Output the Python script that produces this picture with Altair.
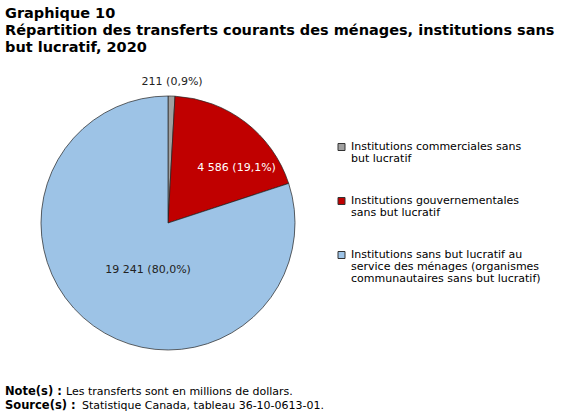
import altair as alt
import pandas as pd

categories = [
    "Institutions commerciales sans|but lucratif",
    "Institutions gouvernementales|sans but lucratif",
    "Institutions sans but lucratif au|service des ménages (organismes|communautaires sans but lucratif)",
]
values = [211, 4586, 19241]
labels = ["211 (0,9%)", "4 586 (19,1%)", "19 241 (80,0%)"]
colors = ["#A0A0A0", "#C00000", "#9DC3E6"]
label_colors = ["#222222", "#FFFFFF", "#222222"]

df = pd.DataFrame({
    "cat": categories,
    "value": values,
    "label": labels,
    "order": list(range(len(values))),
    "lcol": label_colors,
})

# legend table built from the categories (one row per text line)
rows = []
prev = 0
for i, c in enumerate(categories):
    parts = c.split("|")
    for j, line in enumerate(parts):
        rows.append({"cat": c, "entry": i, "line": j, "prev": prev, "txt": line})
    prev += len(parts)
leg = pd.DataFrame(rows)

FONT = "DejaVu Sans"
CX, CY, R = 168, 223, 127
color_scale = alt.Scale(domain=categories, range=colors)

base = alt.Chart(df)

pie = base.mark_arc(stroke="#222222", strokeWidth=0.7).encode(
    theta=alt.Theta("value:Q", stack=True),
    order=alt.Order("order:Q"),
    color=alt.Color("cat:N", scale=color_scale, legend=None),
    x=alt.value(CX),
    y=alt.value(CY),
    radius=alt.value(R),
)

text = base.transform_joinaggregate(
    total="sum(value)"
).transform_window(
    cum="sum(value)", sort=[alt.SortField("order")], frame=[None, 0]
).transform_calculate(
    start="datum.cum - datum.value",
    f="datum.order == 0 ? 0.53 : (datum.order == 1 ? 0.70 : 0.455)",
    r="datum.order == 0 ? 141 : (datum.order == 1 ? 88 : 51)",
).transform_calculate(
    ang="2 * PI * (datum.start + datum.f * datum.value) / datum.total"
).transform_calculate(
    px=f"{CX} + datum.r * sin(datum.ang)",
    py=f"{CY} - datum.r * cos(datum.ang)",
).mark_text(font=FONT, fontSize=11).encode(
    x=alt.X("px:Q", scale=None),
    y=alt.Y("py:Q", scale=None),
    text="label:N",
    color=alt.Color("lcol:N", scale=None),
)

LY0, LH, GAP = 147, 12, 30
leg_base = alt.Chart(leg).transform_calculate(
    ly=f"{LY0} + {LH} * (datum.prev + datum.line) + {GAP} * datum.entry"
)

leg_sym = leg_base.transform_filter("datum.line == 0").mark_square(
    size=49, stroke="#333333", strokeWidth=1, opacity=1
).encode(
    x=alt.value(341.5),
    y=alt.Y("ly:Q", scale=None),
    color=alt.Color("cat:N", scale=color_scale, legend=None),
)

leg_txt = leg_base.mark_text(
    font=FONT, fontSize=11, align="left", baseline="middle", color="#000000"
).encode(
    x=alt.value(351),
    y=alt.Y("ly:Q", scale=None),
    text="txt:N",
)

one = alt.Data(values=[{}])

def txt(s, x, y, bold=False, size=11):
    return alt.Chart(one).mark_text(
        font=FONT, fontSize=size, fontWeight="bold" if bold else "normal",
        align="left", baseline="middle", color="#000000",
    ).encode(x=alt.value(x), y=alt.value(y), text=alt.value(s))

title_layers = [
    txt("Graphique  10", 5, 14, True, 14.5),
    txt("Répartition des transferts courants des ménages, institutions  sans", 5, 31, True, 14.5),
    txt("but lucratif,  2020", 5, 48, True, 14.5),
    txt("Note(s) :", 5, 392, True, 11.5),
    txt("Les transferts sont en millions de dollars.", 66, 392),
    txt("Source(s) :", 5, 406, True, 11.5),
    txt("Statistique Canada, tableau 36-10-0613-01.", 82, 406),
]

chart = alt.layer(pie, text, leg_sym, leg_txt, *title_layers).properties(
    width=567, height=417, autosize="none", padding=0
).configure_view(stroke=None)

chart.save("out.html", embed_options={"renderer": "svg", "actions": False})
